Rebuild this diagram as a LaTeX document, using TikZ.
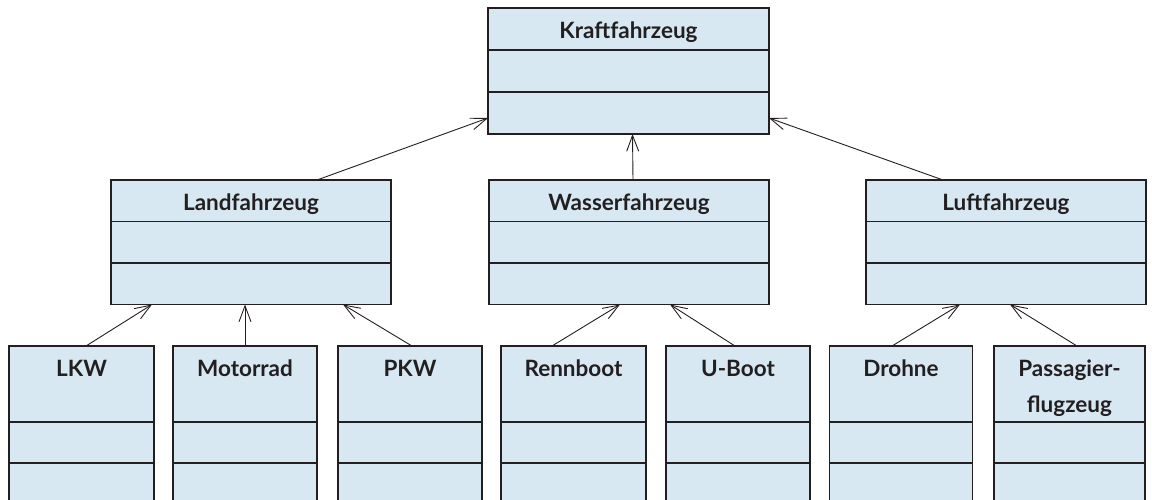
\documentclass[tikz,border=0pt]{standalone}
\usepackage{fontspec}
\setmainfont{Lato}
\usetikzlibrary{positioning, arrows.meta}

\definecolor{klassenblau}{RGB}{215,232,242}
\definecolor{dunkel}{RGB}{35,31,32}

\begin{document}
\begin{tikzpicture}[
        x=1pt, y=-1pt,
        every node/.style={draw=dunkel, line width=1.6pt, fill=klassenblau, outer sep=0pt, inner sep=0pt, text=dunkel},
        titel/.style={rectangle, font=\fontsize{22.5pt}{36pt}\selectfont\bfseries, text height=19.5pt, text depth=0pt},
        fach/.style={rectangle},
        klassenname/.style={draw=none, fill=none, anchor=base, yshift=-30pt, align=center, font=\fontsize{22.5pt}{36pt}\selectfont\bfseries},
        erbt/.style={draw=dunkel, line width=0.9pt, -{Straight Barb[length=16pt, width=12pt]}}
    ]

    % Rahmen des Bildes
    \path[use as bounding box, clip] (0,0) rectangle (1152,499);

    % Oberklasse
    \node[titel, minimum width=281pt, minimum height=42pt] (kfz) at (628.5,29) {Kraftfahrzeug};
    \node[fach, minimum width=281pt, minimum height=42pt, below=0pt of kfz] (kfz2) {};
    \node[fach, minimum width=281pt, minimum height=42pt, below=0pt of kfz2] (kfz3) {};

    % Mittlere Ebene
    \node[titel, minimum width=280pt, minimum height=41.5pt] (land) at (251,200.75) {Landfahrzeug};
    \node[fach, minimum width=280pt, minimum height=41.5pt, below=0pt of land] (land2) {};
    \node[fach, minimum width=280pt, minimum height=41.5pt, below=0pt of land2] (land3) {};

    \node[titel, minimum width=280pt, minimum height=41.5pt] (wasser) at (629,200.75) {Wasserfahrzeug};
    \node[fach, minimum width=280pt, minimum height=41.5pt, below=0pt of wasser] (wasser2) {};
    \node[fach, minimum width=280pt, minimum height=41.5pt, below=0pt of wasser2] (wasser3) {};

    \node[titel, minimum width=280pt, minimum height=41.5pt] (luft) at (1006,200.75) {Luftfahrzeug};
    \node[fach, minimum width=280pt, minimum height=41.5pt, below=0pt of luft] (luft2) {};
    \node[fach, minimum width=280pt, minimum height=41.5pt, below=0pt of luft2] (luft3) {};

    % Untere Ebene
    \node[fach, minimum width=145pt, minimum height=76pt, label={[klassenname]north:LKW}] (lkw) at (81.5,384) {};
    \node[fach, minimum width=145pt, minimum height=41pt, below=0pt of lkw] (lkw2) {};
    \node[fach, minimum width=145pt, minimum height=41pt, below=0pt of lkw2] (lkw3) {};

    \node[fach, minimum width=144pt, minimum height=76pt, label={[klassenname]north:Motorrad}] (motorrad) at (245,384) {};
    \node[fach, minimum width=144pt, minimum height=41pt, below=0pt of motorrad] (motorrad2) {};
    \node[fach, minimum width=144pt, minimum height=41pt, below=0pt of motorrad2] (motorrad3) {};

    \node[fach, minimum width=144pt, minimum height=76pt, label={[klassenname]north:PKW}] (pkw) at (410,384) {};
    \node[fach, minimum width=144pt, minimum height=41pt, below=0pt of pkw] (pkw2) {};
    \node[fach, minimum width=144pt, minimum height=41pt, below=0pt of pkw2] (pkw3) {};

    \node[fach, minimum width=145pt, minimum height=76pt, label={[klassenname]north:Rennboot}] (rennboot) at (573.5,384) {};
    \node[fach, minimum width=145pt, minimum height=41pt, below=0pt of rennboot] (rennboot2) {};
    \node[fach, minimum width=145pt, minimum height=41pt, below=0pt of rennboot2] (rennboot3) {};

    \node[fach, minimum width=144pt, minimum height=76pt, label={[klassenname]north:U-Boot}] (uboot) at (738,384) {};
    \node[fach, minimum width=144pt, minimum height=41pt, below=0pt of uboot] (uboot2) {};
    \node[fach, minimum width=144pt, minimum height=41pt, below=0pt of uboot2] (uboot3) {};

    \node[fach, minimum width=143pt, minimum height=76pt, label={[klassenname]north:Drohne}] (drohne) at (901,384) {};
    \node[fach, minimum width=143pt, minimum height=41pt, below=0pt of drohne] (drohne2) {};
    \node[fach, minimum width=143pt, minimum height=41pt, below=0pt of drohne2] (drohne3) {};

    % zweizeiliger Name: base liegt auf der letzten Zeile
    \node[fach, minimum width=151pt, minimum height=76pt, label={[klassenname, yshift=-36pt]north:Passagier-\\flugzeug}] (flugzeug) at (1069.5,384) {};
    \node[fach, minimum width=151pt, minimum height=41pt, below=0pt of flugzeug] (flugzeug2) {};
    \node[fach, minimum width=151pt, minimum height=41pt, below=0pt of flugzeug2] (flugzeug3) {};

    % Vererbungspfeile
    \draw[erbt] ([xshift=66pt]land.north) -- ([yshift=-5pt]kfz3.west);
    \draw[erbt] ([xshift=4pt]wasser.north) -- ([xshift=4pt]kfz3.south);
    \draw[erbt] ([xshift=-63pt]luft.north) -- ([yshift=-5pt]kfz3.east);

    \draw[erbt] ([xshift=4.5pt]lkw.north) -- ([xshift=-99pt]land3.south);
    \draw[erbt] (motorrad.north) -- (motorrad.north |- land3.south);
    \draw[erbt] ([xshift=2pt]pkw.north) -- ([xshift=92pt]land3.south);

    \draw[erbt] ([xshift=-21.5pt]rennboot.north) -- ([xshift=-9pt]wasser3.south);
    \draw[erbt] ([xshift=-3pt]uboot.north) -- ([xshift=41pt]wasser3.south);

    \draw[erbt] ([xshift=-9pt]drohne.north) -- ([xshift=-46pt]luft3.south);
    \draw[erbt] ([xshift=7.5pt]flugzeug.north) -- ([xshift=4pt]luft3.south);

\end{tikzpicture}
\end{document}
